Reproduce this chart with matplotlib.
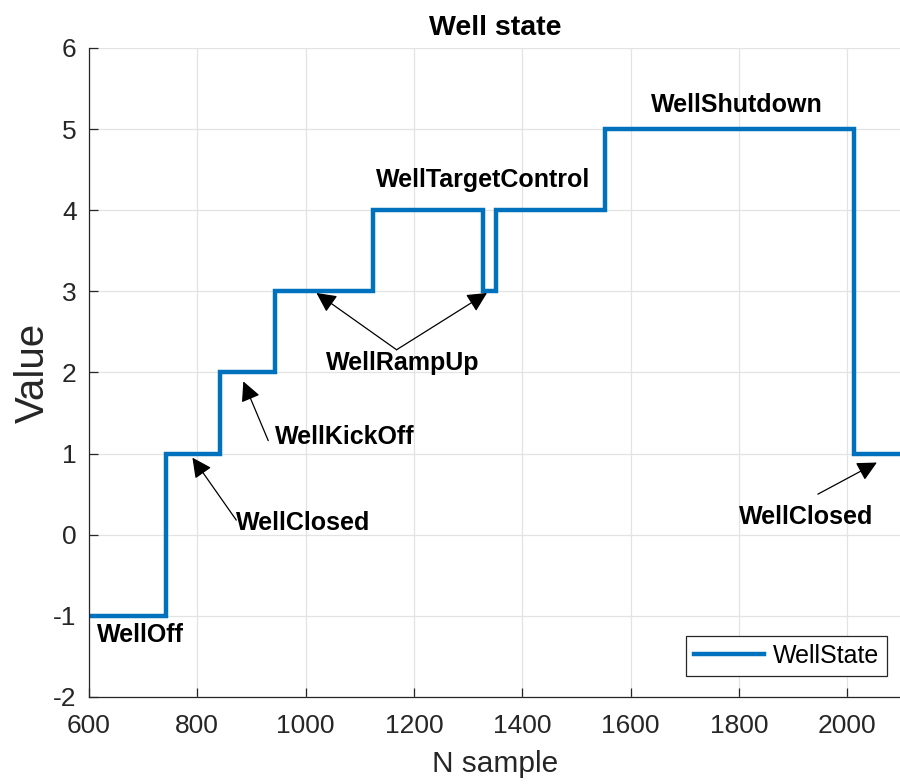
import matplotlib.pyplot as plt

plt.rcParams['font.family'] = ['Liberation Sans', 'DejaVu Sans']
plt.rcParams['axes.unicode_minus'] = False

# sample where each state starts, and the state value held from there on
change_samples = [600, 742, 841, 943, 1125, 1327, 1351, 1552, 2013, 2100]
state_values = [-1, 1, 2, 3, 4, 3, 4, 5, 1, 1]

x_ticks = [600, 800, 1000, 1200, 1400, 1600, 1800, 2000]
y_ticks = [-2, -1, 0, 1, 2, 3, 4, 5, 6]

fig = plt.figure(figsize=(9, 7.84), dpi=100)
ax = fig.add_axes([0.0989, 0.111, 0.9025, 0.8278])

ax.step(change_samples, state_values, where='post', color='#0072BD', lw=3.2,
        label='WellState', solid_joinstyle='miter')

ax.set_xlim(600, 2100)
ax.set_ylim(-2, 6)
ax.set_xticks(x_ticks)
ax.set_yticks(y_ticks)
ax.grid(True, color='#e3e3e3', lw=0.9)
ax.set_axisbelow(True)
for s in ['top', 'right']:
    ax.spines[s].set_visible(False)
for s in ['left', 'bottom']:
    ax.spines[s].set_color('#262626')
    ax.spines[s].set_linewidth(0.9)
ax.tick_params(direction='in', length=6.5, width=0.9, colors='#262626', labelsize=19)
ax.tick_params(axis='x', pad=12)
ax.tick_params(axis='y', pad=9)

ax.set_title('Well state', fontsize=20.5, fontweight='bold', pad=9)
ax.set_xlabel('N sample', fontsize=21.5, color='#262626', labelpad=9)
ax.set_ylabel('Value', fontsize=29, color='#262626', labelpad=1)

arrow = dict(arrowstyle='-|>', color='k', lw=0.9, mutation_scale=30, shrinkA=0, shrinkB=0)
txt = dict(fontsize=18, fontweight='bold')

ax.text(615, -1.24, 'WellOff', ha='left', va='center', **txt)
ax.text(872, 0.14, 'WellClosed', ha='left', va='center', **txt)
ax.annotate('', xy=(791, 0.95), xytext=(872, 0.18), arrowprops=arrow)
ax.text(943, 1.21, 'WellKickOff', ha='left', va='center', **txt)
ax.annotate('', xy=(885, 1.89), xytext=(931, 1.16), arrowprops=arrow)
ax.text(1180, 2.12, 'WellRampUp', ha='center', va='center', **txt)
ax.annotate('', xy=(1020, 2.98), xytext=(1168, 2.28), arrowprops=arrow)
ax.annotate('', xy=(1335, 2.98), xytext=(1168, 2.28), arrowprops=arrow)
ax.text(1328, 4.37, 'WellTargetControl', ha='center', va='center', **txt)
ax.text(1797, 5.30, 'WellShutdown', ha='center', va='center', **txt)
ax.text(1925, 0.22, 'WellClosed', ha='center', va='center', **txt)
ax.annotate('', xy=(2055, 0.89), xytext=(1946, 0.50), arrowprops=arrow)

leg = ax.legend(loc='lower right', bbox_to_anchor=(0.983, 0.032), fontsize=18,
                handlelength=2.8, handletextpad=0.35, borderpad=0.32, fancybox=False,
                framealpha=1, edgecolor='#262626', borderaxespad=0)
leg.get_frame().set_linewidth(0.9)

fig.savefig('out.png', dpi=100)
